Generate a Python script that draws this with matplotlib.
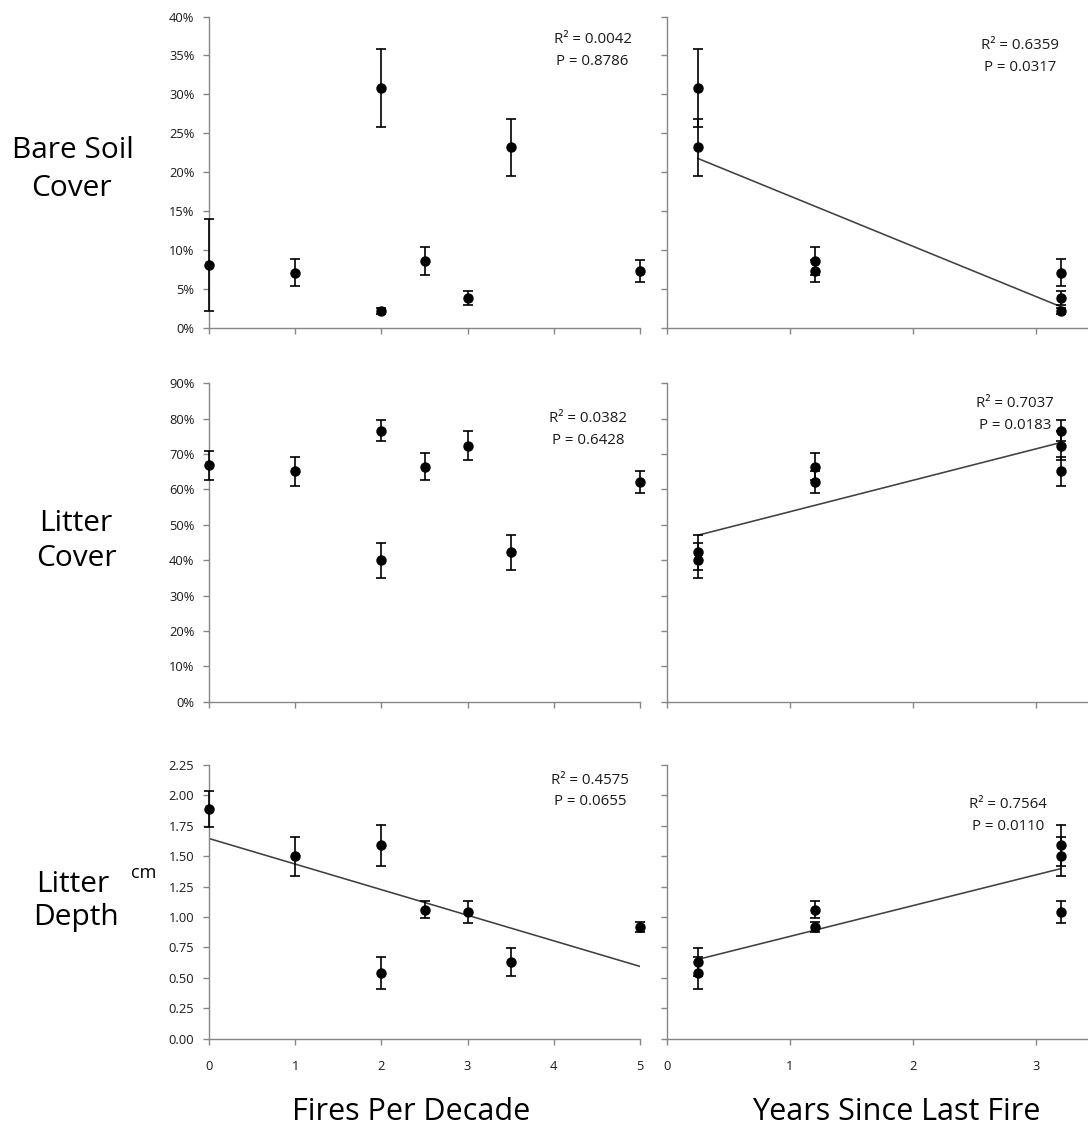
import numpy as np
import matplotlib
matplotlib.use("Agg")
import matplotlib.pyplot as plt
from matplotlib.ticker import PercentFormatter, FormatStrFormatter, MultipleLocator

plt.rcParams['font.family'] = ['Open Sans', 'DejaVu Sans']

# Site data: one entry per site
fires_per_decade = [0, 1, 2, 2, 2.5, 3, 3.5, 5]
years_since_fire = [np.nan, 3.2, 0.25, 3.2, 1.2, 3.2, 0.25, 1.2]   # unburned site has no value

bare_soil = [8.1, 7.1, 30.8, 2.2, 8.6, 3.9, 23.2, 7.3]            # %
bare_soil_se = [5.9, 1.7, 5.05, 0.4, 1.75, 0.9, 3.7, 1.4]
litter_cover = [66.8, 65.1, 40.0, 76.6, 66.4, 72.4, 42.2, 62.1]    # %
litter_cover_se = [4.2, 4.0, 5.0, 3.0, 3.8, 4.0, 4.9, 3.2]
litter_depth = [1.89, 1.50, 0.54, 1.59, 1.06, 1.04, 0.63, 0.92]    # cm
litter_depth_se = [0.15, 0.16, 0.13, 0.17, 0.07, 0.09, 0.115, 0.04]

stats_fpd = [("0.0042", "0.8786"), ("0.0382", "0.6428"), ("0.4575", "0.0655")]
stats_ysf = [("0.6359", "0.0317"), ("0.7037", "0.0183"), ("0.7564", "0.0110")]
trend_fpd = [False, False, True]
trend_ysf = [True, True, True]

row_titles = [["Bare Soil", "Cover"], ["Litter", "Cover"], ["Litter", "Depth"]]
x_titles = ["Fires Per Decade", "Years Since Last Fire"]

W, H = 1088, 1131
fig = plt.figure(figsize=(W / 100, H / 100), dpi=100)

AXIS_GRAY = "#868686"
TEXT_COL = "#1a1a1a"

# pixel layout helpers
def rect(x0, x1, ytop, ybot):
    return [x0 / W, 1 - ybot / H, (x1 - x0) / W, (ybot - ytop) / H]

def fig_xy(px, py):
    return px / W, 1 - py / H

rows = [(16.5, 328), (383.3, 701.7), (765, 1038.7)]
cols = [(209, 640), (667, 1088)]

values = [bare_soil, litter_cover, litter_depth]
errors = [bare_soil_se, litter_cover_se, litter_depth_se]
ylims = [(0, 40), (0, 90), (0, 2.25)]
ysteps = [5, 10, 0.25]

# label anchor positions (axes fraction) for R² / P text
stat_pos_fpd = [(0.890, 0.925), (0.879, 0.890), (0.884, 0.945)]
stat_pos_ysf = [(0.838, 0.907), (0.827, 0.937), (0.810, 0.856)]


def style_axes(ax, show_ylabels, show_xlabels):
    for side in ("top", "right"):
        ax.spines[side].set_visible(False)
    for side in ("left", "bottom"):
        ax.spines[side].set_color(AXIS_GRAY)
        ax.spines[side].set_linewidth(1.0)
    ax.tick_params(axis="both", direction="out", length=4, width=1.0,
                   color=AXIS_GRAY, labelcolor=TEXT_COL, labelsize=9.3)
    ax.tick_params(axis="y", pad=6.5, labelleft=show_ylabels)
    ax.tick_params(axis="x", pad=11, labelbottom=show_xlabels)


def draw_panel(ax, x, y, e, fit, stats, pos):
    x = np.asarray(x, dtype=float)
    y = np.asarray(y, dtype=float)
    e = np.asarray(e, dtype=float)
    ok = ~np.isnan(x)
    ax.errorbar(x[ok], y[ok], yerr=e[ok], fmt="o", color="black",
                ecolor="black", elinewidth=1.2, capsize=3.4, capthick=1.2,
                markersize=6.5, clip_on=False, zorder=3)
    if fit:
        slope, intercept = np.polyfit(x[ok], y[ok], 1)
        xs = np.array([x[ok].min(), x[ok].max()])
        ax.plot(xs, slope * xs + intercept, color="#404040", lw=1.15, zorder=2)
    fx, fy = pos
    ax.annotate(f"R\u00b2 = {stats[0]}", xy=(fx, fy), xycoords="axes fraction",
                ha="center", va="center", fontsize=10.8, color=TEXT_COL)
    ax.annotate(f"P = {stats[1]}", xy=(fx, fy), xycoords="axes fraction",
                xytext=(0, -15.8), textcoords="offset points",
                ha="center", va="center", fontsize=10.8, color=TEXT_COL)


for r in range(3):
    ytop, ybot = rows[r]
    last = r == 2
    # left column: fires per decade
    axl = fig.add_axes(rect(cols[0][0], cols[0][1], ytop, ybot))
    draw_panel(axl, fires_per_decade, values[r], errors[r], trend_fpd[r],
               stats_fpd[r], stat_pos_fpd[r])
    axl.set_xlim(0, 5)
    axl.set_xticks(range(0, 6))
    axl.set_ylim(*ylims[r])
    axl.yaxis.set_major_locator(MultipleLocator(ysteps[r]))
    if r < 2:
        axl.yaxis.set_major_formatter(PercentFormatter(decimals=0))
    else:
        axl.yaxis.set_major_formatter(FormatStrFormatter("%.2f"))
    style_axes(axl, True, last)

    # right column: years since last fire
    axr = fig.add_axes(rect(cols[1][0], cols[1][1], ytop, ybot))
    draw_panel(axr, years_since_fire, values[r], errors[r], trend_ysf[r],
               stats_ysf[r], stat_pos_ysf[r])
    axr.set_xlim(0, (cols[1][1] - cols[1][0]) / 123.0)
    axr.set_xticks(range(0, 4))
    axr.set_ylim(*ylims[r])
    axr.yaxis.set_major_locator(MultipleLocator(ysteps[r]))
    style_axes(axr, False, last)

# row titles, one text per line
title_fs = 21.5
title_lines = [((73, 150), (71, 188)), ((76, 524), (76, 559)), ((72.5, 884), (76, 917))]
for lines, pos in zip(row_titles, title_lines):
    for text, (px, py) in zip(lines, pos):
        fig.text(*fig_xy(px, py), text, ha="center", va="center",
                 fontsize=title_fs, color="black")
fig.text(*fig_xy(144, 873), "cm", ha="center", va="center",
         fontsize=13, color="black")

# column titles
fig.text(*fig_xy(411.5, 1112), x_titles[0], ha="center", va="center",
         fontsize=22, color="black")
fig.text(*fig_xy(896.5, 1112), x_titles[1], ha="center", va="center",
         fontsize=22, color="black")

fig.savefig("out.png", dpi=100, facecolor="white")
